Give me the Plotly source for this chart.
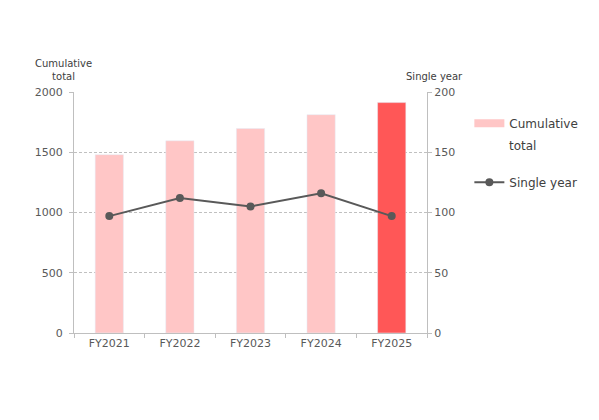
import plotly.graph_objects as go

# data
years = ['FY2021', 'FY2022', 'FY2023', 'FY2024', 'FY2025']
cumulative = [1480, 1595, 1697, 1812, 1912]
single_year = [97, 112, 105, 116, 97]
bar_colors = ['#FFC6C6', '#FFC6C6', '#FFC6C6', '#FFC6C6', '#FF5757']

text_color = '#595959'
font_name = 'DejaVu Sans'

fig = go.Figure()
fig.add_trace(go.Bar(
    x=years, y=cumulative,
    marker_color=bar_colors,
    width=0.4,
    showlegend=False,
    yaxis='y',
))
# legend-only entry so the swatch is a wide flat rectangle like the original
fig.add_trace(go.Scatter(
    x=[None], y=[None],
    mode='lines',
    line=dict(color='#FFC6C6', width=8),
    name='Cumulative',
    legendgroup='cum',
))
fig.add_trace(go.Scatter(
    x=years, y=single_year,
    mode='lines+markers',
    line=dict(color='#595959', width=2),
    marker=dict(color='#595959', size=8),
    name='Single year',
    legendgroup='single',
    yaxis='y2',
))

# page body has an 8px margin, so margins are 8px smaller than the target
fig.update_layout(
    width=599, height=420,
    margin=dict(l=66, r=180, t=84, b=95),
    plot_bgcolor='white', paper_bgcolor='white',
    font=dict(family=font_name, size=11, color=text_color),
    xaxis=dict(
        showline=True, linecolor='#BFBFBF', linewidth=1,
        ticks='outside', tickson='boundaries', ticklen=4, tickcolor='#BFBFBF',
        showgrid=False,
    ),
    yaxis=dict(
        range=[0, 2000], tickvals=[0, 500, 1000, 1500, 2000],
        showline=True, linecolor='#BFBFBF', linewidth=1,
        ticks='outside', ticklen=4, tickcolor='#BFBFBF',
        gridcolor='#C0C0C0', griddash='3px,2px', gridwidth=1,
        zeroline=False, ticklabelstandoff=4,
    ),
    yaxis2=dict(
        range=[0, 200], tickvals=[0, 50, 100, 150, 200],
        overlaying='y', side='right',
        showline=True, linecolor='#BFBFBF', linewidth=1,
        ticks='outside', ticklen=4, tickcolor='#BFBFBF',
        showgrid=False, zeroline=False,
    ),
    legend=dict(
        x=1.12, y=0.93, xanchor='left', yanchor='top',
        font=dict(size=12, color='#404040'),
        bgcolor='rgba(0,0,0,0)',
        tracegroupgap=40, itemwidth=30,
    ),
    showlegend=True,
)

# second line of the first legend label, with the wide spacing of the original
fig.add_annotation(
    text='total', xref='paper', yref='paper',
    x=1.226, y=0.776, xanchor='left', yanchor='middle',
    showarrow=False, font=dict(size=12, color='#404040'),
)
fig.add_annotation(
    text='Cumulative<br>total', xref='paper', yref='paper',
    x=-0.03, y=1.035, xanchor='center', yanchor='bottom',
    showarrow=False, font=dict(size=10, color='#404040'),
)
fig.add_annotation(
    text='Single year', xref='paper', yref='paper',
    x=1.02, y=1.035, xanchor='center', yanchor='bottom',
    showarrow=False, font=dict(size=10, color='#404040'),
)

fig.write_html("out.html")
